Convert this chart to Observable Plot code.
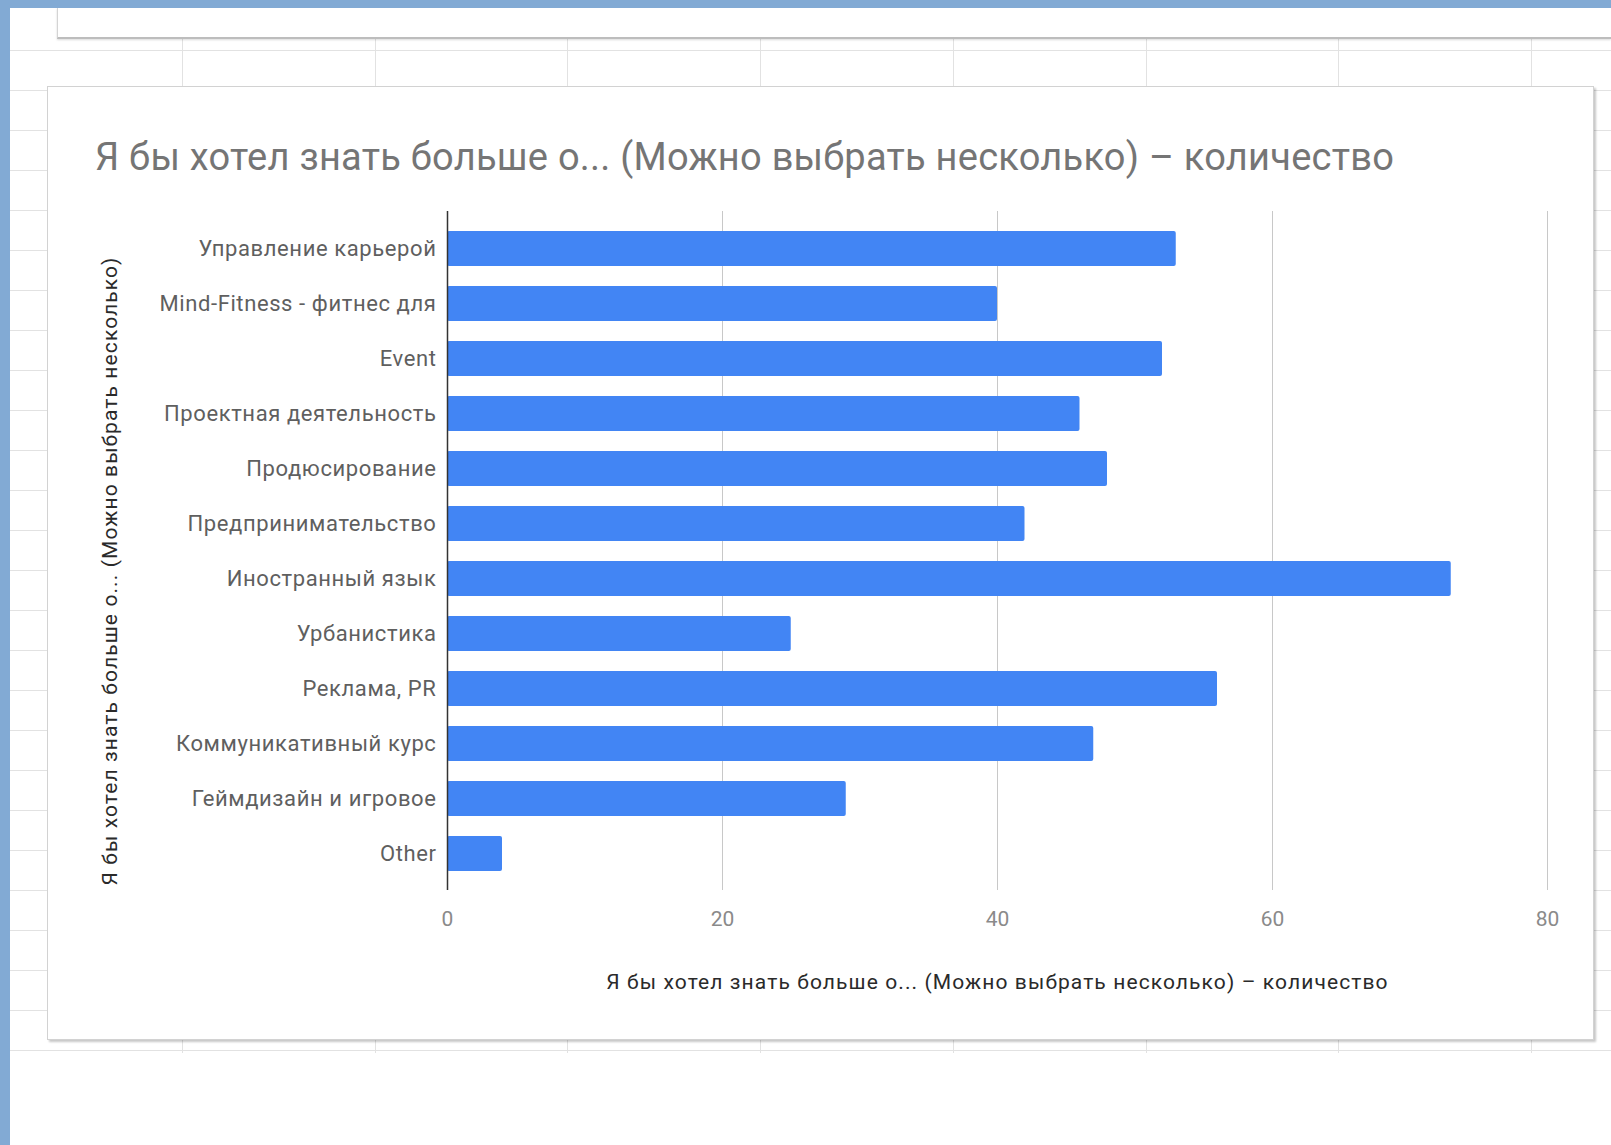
<!DOCTYPE html>
<html><head><meta charset="utf-8">
<script src="https://cdn.jsdelivr.net/npm/d3@7"></script>
<script src="https://cdn.jsdelivr.net/npm/@observablehq/plot@0.6"></script>
<style>
html,body{margin:0;padding:0;background:#fff;}
body{width:1611px;height:1145px;position:relative;overflow:hidden;font-family:Roboto,"Noto Sans",sans-serif;}
#sheet{position:absolute;left:10px;top:37px;width:1601px;height:1016px;
 background-image:
  repeating-linear-gradient(to bottom, transparent 0px, transparent 13px, #e2e2e2 13px, #e2e2e2 14px, transparent 14px, transparent 40px);}
.vline{position:absolute;top:37px;height:1016px;width:1px;background:#e2e2e2;}
#topbox{position:absolute;left:57px;top:8px;right:0;height:29px;background:#fff;border-left:1px solid #d4d4d4;border-bottom:2px solid #bdbdbd;box-shadow:0 1px 2px rgba(0,0,0,0.15);}
#topbar{position:absolute;left:0;top:0;width:1611px;height:8px;background:#82aad4;}
#leftbar{position:absolute;left:0;top:0;width:10px;height:1145px;background:#82aad4;}
#card{position:absolute;left:47px;top:86px;width:1545px;height:952px;background:#fff;border:1px solid #d2d2d2;box-shadow:2px 2px 2px rgba(0,0,0,0.22);}
#title{position:absolute;left:95px;top:138px;font-size:38px;letter-spacing:0.25px;line-height:1;color:#757575;white-space:nowrap;}
#plot{position:absolute;left:47px;top:190px;}
g[aria-label="y-axis tick label"] text{letter-spacing:0.6px;}
g[aria-label="x-axis label"] text, g.ytitle text{letter-spacing:1.1px;}
</style>
</head><body>
<div id="sheet"></div>
<div id="topbox"></div>
<div id="topbar"></div>
<div id="leftbar"></div>
<div id="card"></div>
<div id="title"></div>
<div id="plot"></div>
<script>
const chartTitle = "Я бы хотел знать больше о... (Можно выбрать несколько) – количество";
const xTitle = "Я бы хотел знать больше о... (Можно выбрать несколько) – количество";
const yTitle = "Я бы хотел знать больше о... (Можно выбрать несколько)";
const topics = ["Управление карьерой","Mind-Fitness - фитнес для","Event","Проектная деятельность","Продюсирование","Предпринимательство","Иностранный язык","Урбанистика","Реклама, PR","Коммуникативный курс","Геймдизайн и игровое","Other"];
const counts = [53, 40, 52, 46, 48, 42, 73, 25, 56, 47, 29, 4];
const xTicks = [0, 20, 40, 60, 80];

// spreadsheet column lines (page decoration)
for (let k = 0; k < 8; k++) {
  const d = document.createElement("div");
  d.className = "vline";
  d.style.left = Math.round(182 + 192.7 * k) + "px";
  document.body.insertBefore(d, document.getElementById("topbox"));
}

document.getElementById("title").textContent = chartTitle;
const data = topics.map((t, i) => ({topic: t, count: counts[i]}));

const chart = Plot.plot({
  width: 1548, height: 840,
  marginLeft: 400, marginRight: 48, marginTop: 21, marginBottom: 140,
  style: {fontFamily: "Roboto, sans-serif", background: "transparent"},
  x: {domain: [0, 80], ticks: xTicks},
  y: {domain: topics, paddingInner: 0.365, paddingOuter: 0.32},
  marks: [
    Plot.gridX(xTicks.filter(d => d > 0), {stroke: "#c8c8c8", strokeOpacity: 1}),
    Plot.barX(data, {x: "count", y: "topic", fill: "#4285f4", rx: 2}),
    Plot.ruleX([0], {stroke: "#333", strokeWidth: 1.5}),
    Plot.axisX(xTicks, {tickSize: 0, tickPadding: 21, fontSize: 21, color: "#8a8a8a", label: null}),
    Plot.axisX({ticks: [], tickSize: 0, fontSize: 21, color: "#2a2a2a", label: xTitle, labelAnchor: "center", labelArrow: "none", labelOffset: 98}),
    Plot.axisY({tickSize: 0, tickPadding: 11, fontSize: 22, color: "#5f5f5f", label: null}),
    Plot.text([yTitle], {text: d => d, frameAnchor: "left", rotate: -90, lineAnchor: "middle", textAnchor: "middle", dx: -337, dy: 20, fontSize: 21, fill: "#2a2a2a", className: "ytitle"})
  ]
});
document.getElementById("plot").appendChild(chart);
</script>
</body></html>
